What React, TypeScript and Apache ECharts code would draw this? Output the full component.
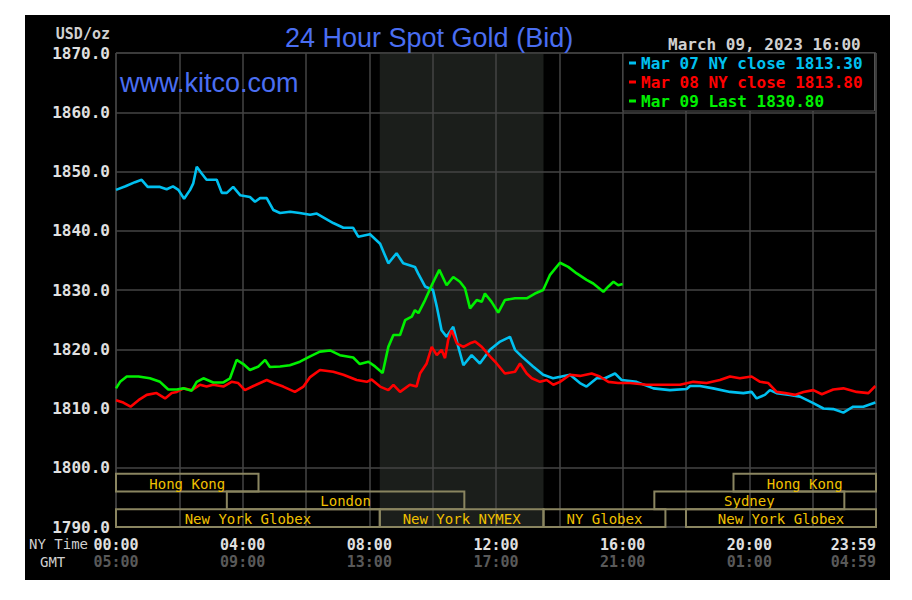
import React, { useEffect, useRef } from "react";
import * as echarts from "echarts";

const MONO = '"DejaVu Sans Mono", "Liberation Mono", monospace';
const SANS = '"Liberation Sans", Arial, sans-serif';

// NY time (hours) and bid values
const MAR07_T = [0, 0.3, 0.6, 0.81, 1.0, 1.39, 1.6, 1.8, 1.97, 2.15, 2.34, 2.44, 2.55, 2.7, 2.86, 3.18, 3.34, 3.5, 3.7, 3.92, 4.23, 4.39, 4.55, 4.76, 4.97, 5.18, 5.5, 5.8, 6.13, 6.34, 6.86, 7.18, 7.49, 7.65, 8.02, 8.34, 8.6, 8.86, 9.07, 9.44, 9.54, 9.76, 10.01, 10.13, 10.28, 10.44, 10.65, 10.81, 10.97, 11.23, 11.49, 11.81, 12.13, 12.44, 12.6, 12.81, 13.17, 13.49, 13.8, 14.07, 14.34, 14.65, 14.86, 15.18, 15.44, 15.76, 15.97, 16.44, 16.97, 17.49, 18.02, 18.13, 18.44, 18.86, 19.39, 19.81, 20.07, 20.23, 20.49, 20.65, 20.86, 21.28, 21.6, 22.02, 22.34, 22.65, 22.97, 23.28, 23.6, 23.98];
const MAR07_V = [1846.9, 1847.5, 1848.2, 1848.6, 1847.4, 1847.4, 1847.0, 1847.5, 1846.9, 1845.4, 1846.9, 1848.0, 1850.8, 1849.7, 1848.6, 1848.6, 1846.4, 1846.4, 1847.4, 1846.0, 1845.7, 1844.9, 1845.5, 1845.5, 1843.5, 1843.0, 1843.2, 1843.0, 1842.7, 1842.9, 1841.3, 1840.5, 1840.5, 1839.0, 1839.4, 1837.8, 1834.5, 1836.2, 1834.5, 1833.9, 1832.8, 1830.6, 1830.0, 1827.2, 1823.2, 1822.1, 1823.8, 1820.4, 1817.3, 1819.0, 1817.6, 1819.9, 1821.3, 1822.1, 1819.9, 1818.8, 1817.1, 1815.7, 1815.1, 1815.4, 1815.7, 1814.3, 1813.7, 1815.1, 1815.1, 1815.9, 1814.8, 1814.5, 1813.4, 1813.1, 1813.3, 1813.8, 1813.8, 1813.4, 1812.8, 1812.6, 1812.8, 1811.7, 1812.3, 1813.1, 1812.6, 1812.3, 1812.0, 1810.9, 1810.0, 1809.9, 1809.3, 1810.3, 1810.3, 1811.0];

const MAR08_T = [0, 0.23, 0.46, 0.71, 0.97, 1.28, 1.55, 1.76, 1.92, 2.13, 2.39, 2.65, 2.86, 3.07, 3.39, 3.65, 3.86, 4.07, 4.34, 4.76, 4.97, 5.28, 5.65, 5.92, 6.13, 6.44, 6.86, 7.18, 7.6, 7.92, 8.07, 8.34, 8.6, 8.76, 8.97, 9.28, 9.49, 9.6, 9.81, 9.97, 10.13, 10.28, 10.39, 10.49, 10.6, 10.76, 10.97, 11.18, 11.34, 11.55, 11.81, 12.02, 12.28, 12.6, 12.76, 12.97, 13.13, 13.39, 13.6, 13.81, 14.02, 14.34, 14.65, 15.02, 15.28, 15.55, 15.86, 16.23, 16.76, 17.28, 17.81, 18.23, 18.65, 19.07, 19.39, 19.7, 20.07, 20.34, 20.6, 20.86, 21.13, 21.44, 21.71, 22.02, 22.29, 22.65, 22.97, 23.39, 23.76, 23.98];
const MAR08_V = [1811.4, 1811.0, 1810.3, 1811.4, 1812.3, 1812.6, 1811.7, 1812.6, 1812.8, 1813.4, 1813.1, 1814.0, 1813.7, 1814.0, 1813.7, 1814.5, 1814.3, 1813.1, 1813.8, 1814.8, 1814.3, 1813.7, 1812.8, 1813.7, 1815.3, 1816.5, 1816.2, 1815.7, 1814.8, 1814.5, 1814.9, 1813.7, 1813.1, 1814.0, 1812.8, 1814.0, 1813.7, 1815.9, 1817.6, 1820.4, 1819.0, 1819.9, 1818.5, 1821.6, 1823.2, 1821.0, 1820.4, 1821.0, 1821.3, 1820.4, 1818.8, 1817.6, 1815.9, 1816.2, 1817.6, 1815.9, 1815.1, 1814.5, 1814.8, 1814.0, 1814.5, 1815.7, 1815.5, 1815.9, 1815.4, 1814.5, 1814.3, 1814.3, 1814.0, 1814.0, 1814.0, 1814.5, 1814.3, 1814.8, 1815.4, 1815.1, 1815.4, 1814.5, 1814.3, 1812.8, 1812.6, 1812.3, 1812.8, 1813.1, 1812.4, 1813.2, 1813.4, 1812.8, 1812.6, 1813.8];

const MAR09_T = [0, 0.13, 0.34, 0.71, 1.07, 1.39, 1.65, 1.92, 2.13, 2.39, 2.55, 2.76, 3.07, 3.39, 3.6, 3.81, 4.02, 4.23, 4.5, 4.71, 4.86, 5.18, 5.49, 5.81, 6.13, 6.44, 6.76, 7.07, 7.49, 7.7, 7.97, 8.18, 8.42, 8.6, 8.76, 8.97, 9.13, 9.34, 9.44, 9.55, 9.76, 9.97, 10.21, 10.44, 10.65, 10.86, 11.02, 11.18, 11.39, 11.55, 11.65, 11.86, 12.07, 12.28, 12.6, 12.97, 13.23, 13.49, 13.7, 14.02, 14.28, 14.55, 14.86, 15.07, 15.39, 15.55, 15.71, 15.86, 16.0];
const MAR09_V = [1813.4, 1814.5, 1815.4, 1815.4, 1815.1, 1814.5, 1813.2, 1813.2, 1813.4, 1813.0, 1814.5, 1815.1, 1814.4, 1814.4, 1815.1, 1818.2, 1817.5, 1816.5, 1817.1, 1818.2, 1817.0, 1817.1, 1817.3, 1817.9, 1818.8, 1819.6, 1819.8, 1819.0, 1818.6, 1817.5, 1817.9, 1817.1, 1816.0, 1820.4, 1822.4, 1822.4, 1824.9, 1825.5, 1826.6, 1826.1, 1828.3, 1830.8, 1833.4, 1830.8, 1832.2, 1831.4, 1830.3, 1826.9, 1828.3, 1828.0, 1829.4, 1828.0, 1826.2, 1828.3, 1828.6, 1828.6, 1829.4, 1830.0, 1832.5, 1834.6, 1833.9, 1832.8, 1831.7, 1831.1, 1829.7, 1830.6, 1831.4, 1830.8, 1831.0];

const SERIES_NAMES = ["Mar 07 NY close 1813.30", "Mar 08 NY close 1813.80", "Mar 09 Last 1830.80"];
const SERIES_COLORS = ["#00c0f0", "#ff0000", "#00f000"];

// x-axis tick labels (every 4 hours)
const NY_LABELS = ["00:00", "04:00", "08:00", "12:00", "16:00", "20:00", "23:59"];
const GMT_LABELS = ["05:00", "09:00", "13:00", "17:00", "21:00", "01:00", "04:59"];

// Market sessions
const SESSION_NAMES = ["Hong Kong", "London", "New York Globex", "New York NYMEX", "NY Globex", "Sydney", "Hong Kong", "New York Globex"];
const SESSION_START = [0, 3.5, 0, 8.33, 13.5, 17, 19.5, 18];
const SESSION_END = [4.5, 11, 8.33, 13.5, 17.35, 23, 24, 24];
const SESSION_ROW = [2, 1, 0, 0, 0, 1, 2, 0];

// NYMEX trading window (shaded)
const NYMEX_WINDOW = [8.33, 13.5];

const Y_MIN = 1790;
const Y_MAX = 1870;
const ROW_H = 3;

const labelFor = (labels: string[]) => (v: number) => (v % 4 !== 0 ? "" : labels[v / 4]);

export default function App() {
  const ref = useRef<HTMLDivElement>(null);
  useEffect(() => {
    if (!ref.current) return;
    const chart = echarts.init(ref.current, null, { renderer: "svg" });
    const lineData = [
      MAR07_T.map((t, i) => [t, MAR07_V[i]]),
      MAR08_T.map((t, i) => [t, MAR08_V[i]]),
      MAR09_T.map((t, i) => [t, MAR09_V[i]]),
    ];
    const baseX = {
      type: "value",
      min: 0,
      max: 24,
      interval: 2,
      z: 1,
      position: "bottom",
      axisLine: { show: false },
      axisTick: { show: false },
    };
    const option: any = {
      animation: false,
      title: [
        { text: "24 Hour Spot Gold (Bid)", left: 285, top: 24, padding: 0, textStyle: { fontFamily: SANS, fontSize: 27, fontWeight: "normal", color: "#4a6ef2" } },
        { text: "www.kitco.com", left: 120, top: 69, padding: 0, textStyle: { fontFamily: SANS, fontSize: 27, fontWeight: "normal", color: "#4a6ef2" } },
        { text: "March 09, 2023 16:00", left: 668, top: 36, padding: 0, textStyle: { fontFamily: MONO, fontSize: 16, fontWeight: "bold", color: "#d0d0d0" } },
      ],
      legend: {
        orient: "vertical",
        left: 623,
        top: 53,
        itemGap: 3,
        itemWidth: 7,
        itemHeight: 3,
        icon: "rect",
        selectedMode: false,
        padding: [2, 12, 2, 6],
        backgroundColor: "#000",
        borderColor: "#555",
        borderWidth: 1,
        textStyle: { fontFamily: MONO, fontSize: 16, fontWeight: "bold", lineHeight: 16 },
        data: SERIES_NAMES.map((n, i) => ({ name: n, textStyle: { color: SERIES_COLORS[i] } })),
      },
      grid: { left: 116, right: 36, top: 53, bottom: 73, show: true, borderColor: "#444", borderWidth: 1 },
      xAxis: [
        {
          ...baseX,
          splitLine: { show: true, lineStyle: { color: "#444", width: 1.5 } },
          axisLabel: { margin: 10, alignMaxLabel: "right", fontFamily: MONO, fontSize: 15, fontWeight: "bold", color: "#e0e0e0", formatter: labelFor(NY_LABELS) },
        },
        {
          ...baseX,
          splitLine: { show: false },
          axisLabel: { margin: 27, alignMaxLabel: "right", fontFamily: MONO, fontSize: 15, fontWeight: "bold", color: "#595959", formatter: labelFor(GMT_LABELS) },
        },
      ],
      yAxis: {
        type: "value",
        min: Y_MIN,
        max: Y_MAX,
        interval: 10,
        z: 1,
        name: "USD/oz",
        nameLocation: "end",
        nameGap: 12,
        nameTextStyle: { align: "right", verticalAlign: "bottom", padding: [0, 6, 0, 0], fontFamily: MONO, fontSize: 15, fontWeight: "bold", color: "#d0d0d0" },
        axisLine: { show: false },
        axisTick: { show: false },
        splitLine: { show: true, lineStyle: { color: "#444", width: 1.5 } },
        axisLabel: { margin: 6, fontFamily: MONO, fontSize: 16, fontWeight: "bold", color: "#e0e0e0", formatter: (v: number) => v.toFixed(1) },
      },
      graphic: [
        { type: "text", left: 29, top: 537, style: { text: "NY Time", fontFamily: MONO, fontSize: 14, fill: "#cfcfcf" } },
        { type: "text", left: 40, top: 555, style: { text: "GMT", fontFamily: MONO, fontSize: 14, fill: "#cfcfcf" } },
      ],
      series: [
        {
          type: "custom",
          name: "NYMEX",
          z: 0,
          silent: true,
          data: [NYMEX_WINDOW],
          renderItem: (params: any, api: any) => {
            const p1 = api.coord([api.value(0), Y_MAX]);
            const p2 = api.coord([api.value(1), Y_MIN]);
            return { type: "rect", shape: { x: p1[0], y: p1[1], width: p2[0] - p1[0], height: p2[1] - p1[1] }, style: { fill: "#1b1e1b" } };
          },
        },
        ...SERIES_NAMES.map((n, i) => ({
          type: "line",
          name: n,
          data: lineData[i],
          showSymbol: false,
          symbol: "none",
          z: 3,
          lineStyle: { color: SERIES_COLORS[i], width: 2.6 },
          itemStyle: { color: SERIES_COLORS[i] },
        })),
        {
          type: "custom",
          name: "Sessions",
          z: 2,
          silent: true,
          data: SESSION_START.map((s, i) => [s, SESSION_END[i], SESSION_ROW[i]]),
          renderItem: (params: any, api: any) => {
            const s = api.value(0), e = api.value(1), r = api.value(2);
            const p1 = api.coord([s, Y_MIN + (r + 1) * ROW_H]);
            const p2 = api.coord([e, Y_MIN + r * ROW_H]);
            return {
              type: "group",
              children: [
                { type: "rect", shape: { x: p1[0], y: p1[1], width: p2[0] - p1[0], height: p2[1] - p1[1] }, style: { fill: "rgba(0,0,0,0)", stroke: "#8a8560", lineWidth: 2 } },
                { type: "text", style: { text: SESSION_NAMES[params.dataIndex], x: (p1[0] + p2[0]) / 2, y: (p1[1] + p2[1]) / 2 + 1, fill: "#f0c000", font: `14px ${MONO}`, align: "center", verticalAlign: "middle" } },
              ],
            };
          },
        },
      ],
    };
    chart.setOption(option);
    return () => chart.dispose();
  }, []);
  return (
    <div style={{ position: "fixed", left: 0, top: 0, width: 912, height: 600, background: "#fff" }}>
      <div style={{ position: "absolute", left: 25, top: 15, width: 865, height: 565, background: "#000" }} />
      <div ref={ref} style={{ position: "absolute", left: 0, top: 0, width: 912, height: 600 }} />
    </div>
  );
}
